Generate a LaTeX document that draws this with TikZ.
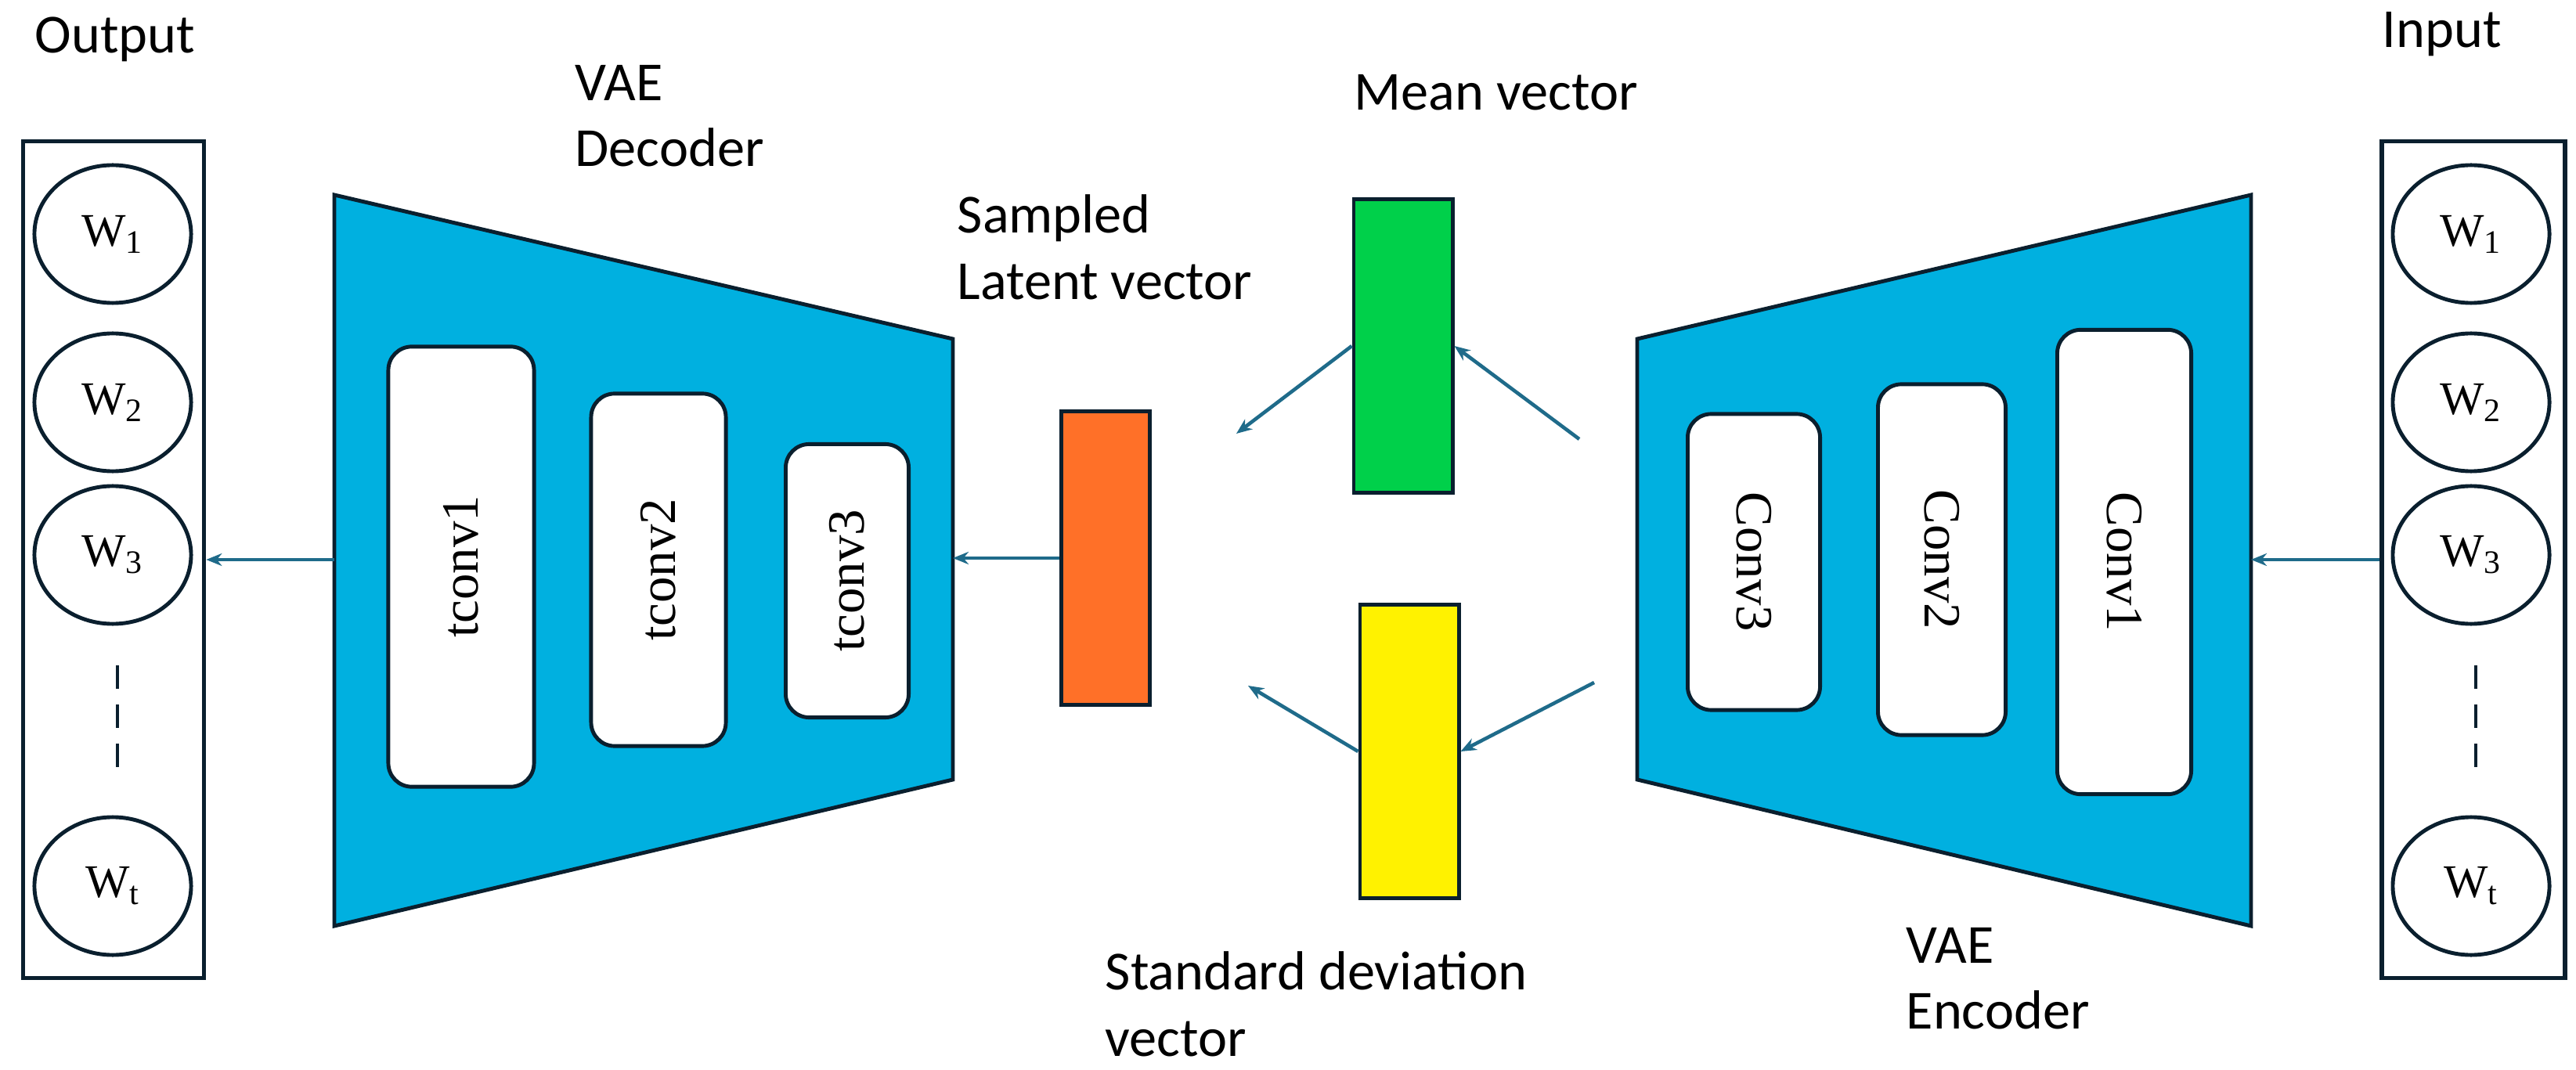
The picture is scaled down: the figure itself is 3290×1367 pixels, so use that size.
\documentclass[tikz,border=0pt]{standalone}
\usepackage{fontspec}
\setmainfont{Carlito}
\newfontfamily\serif{Liberation Serif}
\usetikzlibrary{shapes.geometric,arrows.meta}
\definecolor{vaeblue}{HTML}{00B0E0}
\definecolor{edge}{HTML}{0A1F2E}
\definecolor{arr}{HTML}{1F6B8A}
\definecolor{mgreen}{HTML}{00D04A}
\definecolor{sorange}{HTML}{FF7028}
\tikzset{
    lbl/.style={font=\fontsize{20}{24}\selectfont, align=left, inner sep=0pt},
    word/.style={draw=edge, line width=1.4pt, ellipse, minimum width=2cm, minimum height=1.76cm, inner sep=0pt, font=\serif\fontsize{17}{20}\selectfont},
    layer/.style={draw=edge, line width=1.4pt, fill=white, rounded corners=0.3cm, font=\serif\fontsize{19}{22}\selectfont, inner sep=0pt},
    vec/.style={draw=edge, line width=1.4pt, minimum width=1.2cm, minimum height=3.75cm, inner sep=0pt},
    flow/.style={->, draw=arr, line width=1.3pt, >={Stealth[length=0.2cm,width=0.16cm]}},
}
\begin{document}
\begin{tikzpicture}[x=0.01cm,y=-0.01cm]
            \useasboundingbox (0,0) rectangle (3290,1367);
            % output side
            \node[lbl] (outlbl) at (147,50) {Output};
            \node[draw=edge, line width=1.6pt, minimum width=2.31cm, minimum height=10.68cm] (outbox) at (145,715) {};
            \node[word] (o1) at (144,299) {W\textsubscript{1}};
            \node[word] (o2) at (144,514) {W\textsubscript{2}};
            \node[word] (o3) at (144,709) {W\textsubscript{3}};
            \node[word] (ot) at (144,1132) {W\textsubscript{t}};
            \draw[edge, line width=1.4pt, dash pattern=on 0.3cm off 0.2cm] (150,850) -- (150,998);
            % decoder
            \node[lbl, anchor=west] (declbl) at (734,148) {VAE\\Decoder};
            \draw[fill=vaeblue, draw=edge, line width=1.4pt] (427,249) -- (1217,433) -- (1217,996) -- (427,1183) -- cycle;
            \coordinate (decin) at (1217,713);
            \coordinate (decout) at (427,715);
            \node[layer, minimum height=1.86cm, minimum width=5.62cm, rotate=90] (t1) at (589,724) {tconv1};
            \node[layer, minimum height=1.72cm, minimum width=4.5cm, rotate=90] (t2) at (841,728) {tconv2};
            \node[layer, minimum height=1.57cm, minimum width=3.49cm, rotate=90] (t3) at (1082,742) {tconv3};
            % latent vectors
            \node[lbl, anchor=west] (smplbl) at (1222,316) {Sampled\\Latent vector};
            \node[vec, fill=sorange, minimum width=1.13cm] (z) at (1412,713) {};
            \node[lbl, anchor=west] (meanlbl) at (1729,118) {Mean vector};
            \node[vec, fill=mgreen, minimum width=1.26cm] (mu) at (1792,442) {};
            \node[lbl, anchor=west] (stdlbl) at (1411,1283) {Standard deviation\\vector};
            \node[vec, fill=yellow, minimum width=1.26cm] (sd) at (1800,960) {};
            \coordinate (muend) at (1579,554);
            \coordinate (sdend) at (1594,876);
            \coordinate (encmu) at (2017,561);
            \coordinate (encsd) at (2036,872);
            % encoder
            \node[lbl, anchor=west] (enclbl) at (2434,1250) {VAE\\Encoder};
            \draw[fill=vaeblue, draw=edge, line width=1.4pt] (2091,433) -- (2875,249) -- (2875,1183) -- (2091,996) -- cycle;
            \coordinate (encin) at (2875,715);
            \node[layer, minimum height=1.69cm, minimum width=3.78cm, rotate=-90] (c3) at (2240,718) {Conv3};
            \node[layer, minimum height=1.63cm, minimum width=4.48cm, rotate=-90] (c2) at (2480,715) {Conv2};
            \node[layer, minimum height=1.71cm, minimum width=5.93cm, rotate=-90] (c1) at (2713,718) {Conv1};
            % input side
            \node[lbl] (inlbl) at (3119,44) {Input};
            \node[draw=edge, line width=1.6pt, minimum width=2.34cm, minimum height=10.68cm] (inbox) at (3159,715) {};
            \node[word] (i1) at (3156,299) {W\textsubscript{1}};
            \node[word] (i2) at (3156,514) {W\textsubscript{2}};
            \node[word] (i3) at (3156,709) {W\textsubscript{3}};
            \node[word] (it) at (3156,1132) {W\textsubscript{t}};
            \draw[edge, line width=1.4pt, dash pattern=on 0.3cm off 0.2cm] (3162,850) -- (3162,998);
            % connectors
            \draw[flow] (inbox.west |- encin) -- (encin);
            \draw[flow] (encmu) -- (mu.east);
            \draw[flow] (encsd) -- (sd.east);
            \draw[flow] (mu.west) -- (muend);
            \draw[flow] (sd.west) -- (sdend);
            \draw[flow] (z.west) -- (decin);
            \draw[flow] (decout) -- (outbox.east |- decout);
        \end{tikzpicture}
\end{document}
